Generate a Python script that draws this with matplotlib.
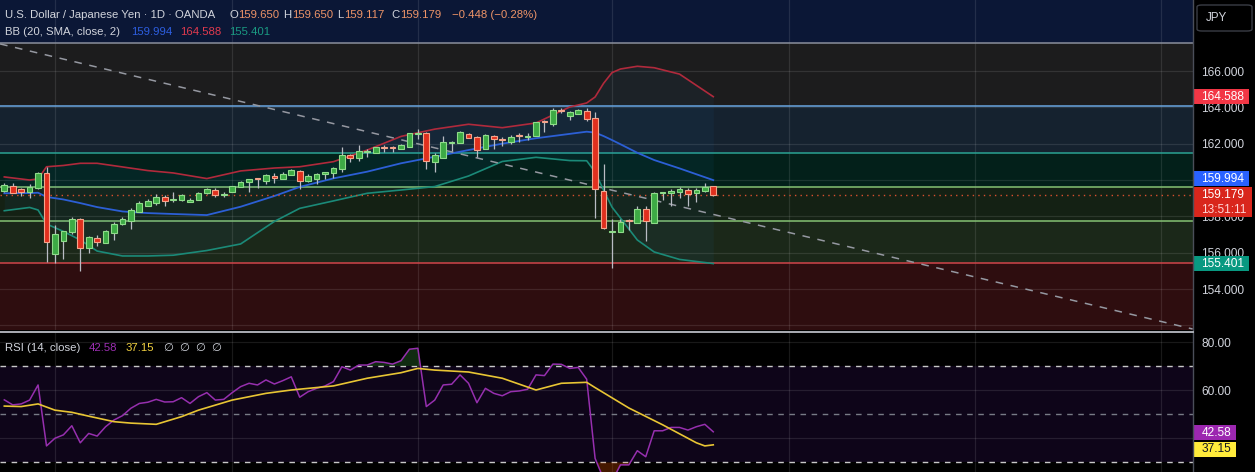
import numpy as np
import matplotlib
matplotlib.use('Agg')
import matplotlib.pyplot as plt
from matplotlib.patches import Rectangle, FancyBboxPatch
from matplotlib.transforms import blended_transform_factory
from matplotlib.lines import Line2D

plt.rcParams['font.family'] = ['Liberation Sans', 'DejaVu Sans']

# USDJPY daily candles (OANDA)
opens = [159.41, 159.67, 159.52, 159.36, 159.54, 160.37, 155.91, 156.66, 157.12, 157.84,
         156.27, 156.83, 156.55, 157.10, 157.56, 157.76, 158.26, 158.57, 158.72, 159.05,
         158.88, 158.88, 158.77, 158.88, 159.27, 159.43, 159.18, 159.32, 159.62, 159.87,
         160.06, 159.96, 160.22, 160.07, 160.29, 160.50, 159.93, 160.07, 160.31, 160.37,
         160.63, 161.38, 161.23, 161.53, 161.50, 161.80, 161.78, 161.69, 161.83, 162.52,
         162.57, 161.01, 161.23, 162.02, 162.05, 162.52, 162.35, 161.69, 162.42, 162.22,
         162.11, 162.44, 162.38, 162.44, 163.21, 163.07, 163.85, 163.54, 163.65, 163.82,
         163.40, 159.41, 157.13, 157.12, 157.78, 157.65, 158.39, 157.65, 159.27, 159.27,
         159.36, 159.45, 159.30, 159.41, 159.650]
highs = [159.84, 159.82, 159.56, 159.78, 160.44, 160.70, 157.52, 157.22, 157.95, 157.91,
         156.92, 156.97, 157.25, 157.71, 157.95, 158.44, 158.86, 158.94, 159.23, 159.18,
         159.34, 159.23, 159.03, 159.32, 159.58, 159.54, 159.34, 159.69, 159.95, 160.04,
         160.07, 160.33, 160.37, 160.46, 160.59, 160.55, 160.31, 160.37, 160.46, 160.73,
         161.83, 161.43, 161.93, 161.71, 161.83, 161.93, 161.89, 161.97, 162.60, 162.79,
         162.63, 161.47, 162.42, 162.15, 162.70, 162.60, 162.44, 162.52, 162.48, 162.38,
         162.48, 162.57, 162.57, 163.21, 163.30, 163.95, 163.95, 163.80, 163.91, 163.95,
         163.76, 160.88, 157.85, 157.85, 157.85, 158.57, 158.57, 159.32, 159.36, 159.49,
         159.60, 159.54, 159.54, 159.82, 159.650]
lows = [159.34, 159.27, 159.12, 159.01, 159.53, 155.50, 155.45, 155.67, 157.03, 155.01,
        156.00, 156.37, 156.52, 156.70, 157.52, 157.30, 158.26, 158.57, 158.62, 158.59,
        158.81, 158.85, 158.77, 158.88, 159.21, 159.08, 159.08, 159.32, 159.62, 159.36,
        159.58, 159.76, 159.82, 160.07, 160.26, 159.52, 159.89, 159.76, 160.07, 160.13,
        160.46, 161.01, 161.05, 161.28, 161.50, 161.56, 161.56, 161.69, 161.83, 162.24,
        160.61, 160.46, 161.23, 161.60, 162.05, 162.30, 161.28, 161.69, 161.71, 161.89,
        161.98, 162.11, 162.20, 162.44, 162.66, 162.99, 163.67, 163.32, 163.65, 163.25,
        157.93, 157.29, 155.14, 157.12, 157.25, 157.62, 156.64, 157.62, 158.90, 158.59,
        159.03, 158.59, 158.77, 159.36, 159.117]
closes = [159.73, 159.30, 159.36, 159.60, 160.40, 156.57, 157.01, 157.19, 157.84, 156.27,
          156.88, 156.60, 157.19, 157.56, 157.84, 158.35, 158.75, 158.85, 159.05, 158.86,
          158.94, 159.16, 158.92, 159.29, 159.51, 159.19, 159.23, 159.65, 159.89, 160.04,
          160.04, 160.28, 160.09, 160.35, 160.53, 159.93, 160.22, 160.33, 160.44, 160.68,
          161.35, 161.23, 161.60, 161.56, 161.80, 161.76, 161.75, 161.93, 162.57, 162.55,
          161.06, 161.38, 162.08, 162.08, 162.64, 162.33, 161.65, 162.46, 162.24, 162.19,
          162.35, 162.41, 162.44, 163.18, 163.18, 163.85, 163.82, 163.73, 163.85, 163.36,
          159.49, 157.38, 157.14, 157.71, 157.74, 158.39, 157.74, 159.27, 159.30, 159.41,
          159.51, 159.25, 159.45, 159.63, 159.179]
change, change_pct = -0.448, -0.28

# Bollinger bands (20, SMA, close, 2), read at these bars
bb_idx = [0, 3, 4, 5, 7, 9, 11, 14, 17, 20, 24, 28, 32, 35, 39, 43, 47, 51, 55, 59,
          63, 67, 69, 70, 71, 72, 73, 75, 77, 80, 84]
bb_upper = [160.17, 160.00, 160.06, 160.73, 160.80, 160.92, 160.92, 160.72, 160.52, 160.39,
            160.08, 160.50, 160.66, 160.73, 161.01, 161.65, 162.40, 162.80, 163.07, 162.88,
            163.14, 164.02, 164.24, 164.57, 165.32, 165.91, 166.11, 166.26, 166.18, 165.83,
            164.588]
bb_basis = [159.27, 159.28, 159.30, 159.07, 158.93, 158.73, 158.51, 158.27, 158.18, 158.13,
            158.07, 158.53, 159.12, 159.62, 160.09, 160.46, 160.92, 161.28, 161.65, 162.00,
            162.30, 162.54, 162.66, 162.61, 162.42, 162.20, 161.97, 161.50, 161.10, 160.64,
            159.994]
bb_lower = [158.31, 158.49, 158.35, 157.58, 157.17, 156.70, 156.09, 155.82, 155.82, 155.86,
            156.12, 156.48, 157.72, 158.44, 158.85, 159.27, 159.45, 159.64, 160.22, 161.02,
            161.25, 161.07, 161.06, 160.44, 159.45, 158.51, 157.91, 156.70, 156.04, 155.63,
            155.401]

# RSI (14, close) and its moving average
rsi = [55.9, 53.8, 54.2, 55.8, 62.1, 36.7, 39.9, 41.3, 45.1, 38.0,
       41.9, 40.8, 44.7, 47.5, 49.3, 52.4, 54.4, 54.9, 56.1, 55.0,
       55.1, 56.8, 54.4, 57.2, 58.9, 55.8, 56.1, 58.9, 61.4, 62.8,
       62.1, 64.2, 62.5, 63.9, 65.5, 57.0, 59.3, 60.7, 61.7, 63.5,
       69.7, 68.3, 70.4, 70.4, 71.8, 71.5, 70.8, 72.2, 77.0, 77.4,
       53.1, 55.8, 62.1, 62.4, 66.3, 62.8, 54.7, 60.7, 58.6, 57.6,
       59.3, 59.6, 60.3, 66.3, 66.0, 70.8, 70.7, 69.0, 69.4, 64.5,
       31.5, 23.0, 22.0, 28.8, 28.8, 34.7, 32.2, 43.0, 43.0, 44.4,
       44.4, 43.3, 44.7, 45.7, 42.58]
rsi_ma_idx = [0, 2, 4, 6, 8, 10, 13, 15, 18, 21, 23, 27, 31, 34, 39, 43, 47, 49, 51, 55,
              59, 63, 66, 69, 70, 74, 78, 82, 83, 84]
rsi_ma = [53.3, 53.1, 54.2, 51.6, 50.7, 49.1, 46.8, 46.2, 45.7, 48.9, 51.6, 55.8, 58.6, 60.0,
          61.7, 64.9, 67.2, 69.0, 68.3, 67.5, 64.9, 60.0, 62.8, 63.2, 61.0, 52.5, 45.5, 38.0,
          36.7, 37.15]

# user drawings: zones, levels, trend line
zone_edges = [150.0, 155.42, 157.74, 159.60, 161.49, 164.07, 167.54, 172.0]
zone_colors = ['#2e0d0f', '#1b2819', '#142114', '#03201a', '#15222f', '#1c1c1d', '#0b1736']
levels = [155.42, 157.74, 159.60, 161.49, 164.07, 167.54]
level_colors = ['#d0454a', '#86c274', '#86c274', '#2aa393', '#6aa6e0', '#8a8f9c']
trend_x = [-0.5, 140.8]
trend_y = [167.49, 151.80]
month_starts = [6, 27, 49, 72, 93, 115, 137]
price_grid = [152, 154, 156, 158, 160, 162, 164, 166]
price_ticks = [154, 156, 158, 162, 164, 166]   # 160 sits under the basis tag
rsi_grid = [40, 60, 80]
rsi_ticks = [60, 80]                           # 40 sits under the RSI tags

W, H = 1255, 472
fig = plt.figure(figsize=(W / 100, H / 100), dpi=100, facecolor='black')
ax = fig.add_axes([0, 1 - 330 / H, 1193 / W, 330 / H])
ax2 = fig.add_axes([0, 0, 1193 / W, 140 / H])

xlim = (-0.51, 140.84)
for a in (ax, ax2):
    a.set_facecolor('black')
    a.set_xlim(*xlim)
    for s in a.spines.values():
        s.set_visible(False)
    a.set_xticks([])
    a.yaxis.tick_right()
    a.tick_params(axis='y', length=0, pad=6, labelsize=8.6, labelcolor='#d1d4dc')
    for m in month_starts:
        a.axvline(m, color='white', alpha=0.1, lw=0.9, zorder=2)

# ---- price pane
ax.set_ylim(151.745, 169.908)
for i in range(len(zone_colors)):
    ax.axhspan(zone_edges[i], zone_edges[i + 1], color=zone_colors[i], lw=0, zorder=0)
for p in price_grid:
    ax.axhline(p, color='white', alpha=0.1, lw=0.9, zorder=1)
for lv, lc in zip(levels, level_colors):
    ax.axhline(lv, color=lc, lw=1.1, zorder=2)
ax.set_yticks(price_ticks)
ax.set_yticklabels(['%.3f' % t for t in price_ticks])

ax.fill_between(bb_idx, bb_upper, bb_lower, color='#2196f3', alpha=0.05, lw=0, zorder=2)
ax.plot(bb_idx, bb_upper, color='#b02a3c', lw=1.2, zorder=3)
ax.plot(bb_idx, bb_basis, color='#2c5fd5', lw=1.3, zorder=3)
ax.plot(bb_idx, bb_lower, color='#1b8a78', lw=1.2, zorder=3)
ax.plot(trend_x, trend_y, color='#9598a1', lw=1.1, dashes=(5, 5), zorder=3)
ax.axhline(closes[-1], color='#d9502e', lw=1, ls=(0, (1, 3)), zorder=3)

o = np.array(opens); c = np.array(closes)
hi = np.array(highs); lo = np.array(lows)
x = np.arange(len(c))
up = c >= o
body_lo = np.minimum(o, c)
body_h = np.maximum(np.abs(c - o), 0.05)
ax.vlines(x, lo, hi, color='#b9bcc4', lw=0.9, zorder=4)
ax.bar(x[up], body_h[up], bottom=body_lo[up], width=0.68, color='#3daa45',
       edgecolor='#8fdc8a', lw=0.8, zorder=5)
ax.bar(x[~up], body_h[~up], bottom=body_lo[~up], width=0.68, color='#e0301e',
       edgecolor='#f5a58c', lw=0.8, zorder=5)

# ---- RSI pane
ax2.set_ylim(25.83, 84.17)
ax2.axhspan(30, 70, color='#0e0519', lw=0, zorder=0)
for t in rsi_grid:
    ax2.axhline(t, color='white', alpha=0.1, lw=0.9, zorder=1)
ax2.axhline(70, color='#c8c8c8', lw=1, dashes=(4, 4), zorder=2)
ax2.axhline(50, color='#787b86', lw=1, dashes=(4, 4), zorder=2)
ax2.axhline(30, color='#c8c8c8', lw=1, dashes=(4, 4), zorder=2)
r = np.array(rsi)
ax2.fill_between(x, r, 70, where=r >= 70, interpolate=True, color='#2e7d32', alpha=0.35, lw=0, zorder=2)
ax2.fill_between(x, r, 30, where=r <= 30, interpolate=True, color='#e65100', alpha=0.3, lw=0, zorder=2)
ax2.plot(x, r, color='#962fae', lw=1.1, zorder=4)
ax2.plot(rsi_ma_idx, rsi_ma, color='#e8c534', lw=1.2, zorder=4)
ax2.set_yticks(rsi_ticks)
ax2.set_yticklabels(['%.2f' % t for t in rsi_ticks])


def value_box(a, val, text, fc, tc, ppu, up_px=7.5, dn_px=7.5, width=56, shift_px=0.0,
              sub=None, subc=None):
    # shift_px moves the tag down (pixels) so that stacked tags do not cover each other
    tr = blended_transform_factory(a.transAxes, a.transData)
    mid = val - shift_px / ppu
    a.add_patch(Rectangle((1.0, mid - dn_px / ppu), width / 1193, (up_px + dn_px) / ppu,
                          transform=tr, fc=fc, ec='none', clip_on=False, zorder=10))
    a.text(1201.5 / 1193, mid, text, transform=tr, color=tc, fontsize=8.6,
           va='center', ha='left', clip_on=False, zorder=11)
    if sub:
        a.text(1201.5 / 1193, mid - 15 / ppu, sub, transform=tr, color=subc, fontsize=8.6,
               va='center', ha='left', clip_on=False, zorder=11)


ppu_price = 18.17
ppu_rsi = 2.4
value_box(ax, bb_upper[-1], '%.3f' % bb_upper[-1], '#f23645', 'white', ppu_price)
value_box(ax, bb_basis[-1], '%.3f' % bb_basis[-1], '#2962ff', 'white', ppu_price, shift_px=-1.6)
value_box(ax, closes[-1], '%.3f' % closes[-1], '#d9261c', 'white', ppu_price,
          up_px=8, dn_px=22, width=59, sub='13:51:11', subc='#ffd6d6')
value_box(ax, bb_lower[-1], '%.3f' % bb_lower[-1], '#089981', 'white', ppu_price)
value_box(ax2, rsi[-1], '%.2f' % rsi[-1], '#9c27b0', 'white', ppu_rsi, width=43, shift_px=0.7)
value_box(ax2, rsi_ma[-1], '%.2f' % rsi_ma[-1], '#ffeb3b', '#131722', ppu_rsi, width=43,
          shift_px=4.4)

# frame lines
fig.add_artist(Line2D([1193 / W, 1193 / W], [0, 1], color='#4a4e59', lw=1))
fig.add_artist(Line2D([0, 1193 / W], [1 - 331.5 / H, 1 - 331.5 / H], color='#b8bbc2', lw=1.3))

# JPY button
fig.add_artist(FancyBboxPatch((1197 / W, 1 - 31 / H), 55 / W, 26 / H,
                              boxstyle='round,pad=0,rounding_size=0.004',
                              transform=fig.transFigure, fc='black', ec='#3a3d45', lw=1))
fig.text(1206 / W, 1 - 18 / H, 'JPY', color='#d1d4dc', fontsize=8.4, va='center')


def ftext(px, py, s, color, size=8.2):
    fig.text(px / W, 1 - py / H, s, color=color, fontsize=size, va='center', ha='left')


lab = '#d1d4dc'
val_c = '#ee9468'
ftext(5, 15, 'U.S. Dollar / Japanese Yen · 1D · OANDA', lab)
ftext(229, 15, 'O', lab); ftext(238, 15, '%.3f' % opens[-1], val_c)
ftext(283, 15, 'H', lab); ftext(292, 15, '%.3f' % highs[-1], val_c)
ftext(337, 15, 'L', lab); ftext(344, 15, '%.3f' % lows[-1], val_c)
ftext(391, 15, 'C', lab); ftext(400, 15, '%.3f' % closes[-1], val_c)
ftext(452, 15, '%s (%s%%)' % (('%.3f' % change).replace('-', '\u2212'),
                               ('%.2f' % change_pct).replace('-', '\u2212')), val_c)
ftext(5, 32, 'BB (20, SMA, close, 2)', lab)
ftext(131, 32, '%.3f' % bb_basis[-1], '#2d5ee0')
ftext(180, 32, '%.3f' % bb_upper[-1], '#e03a4e')
ftext(229, 32, '%.3f' % bb_lower[-1], '#1a9a82')
ftext(5, 348, 'RSI (14, close)', lab)
ftext(89, 348, '%.2f' % rsi[-1], '#9c2fb2')
ftext(126, 348, '%.2f' % rsi_ma[-1], '#f0d040')
for px in (163, 179, 195, 211):
    ftext(px, 348, '\u2205', lab)

fig.savefig('out.png', dpi=100, facecolor='black')
